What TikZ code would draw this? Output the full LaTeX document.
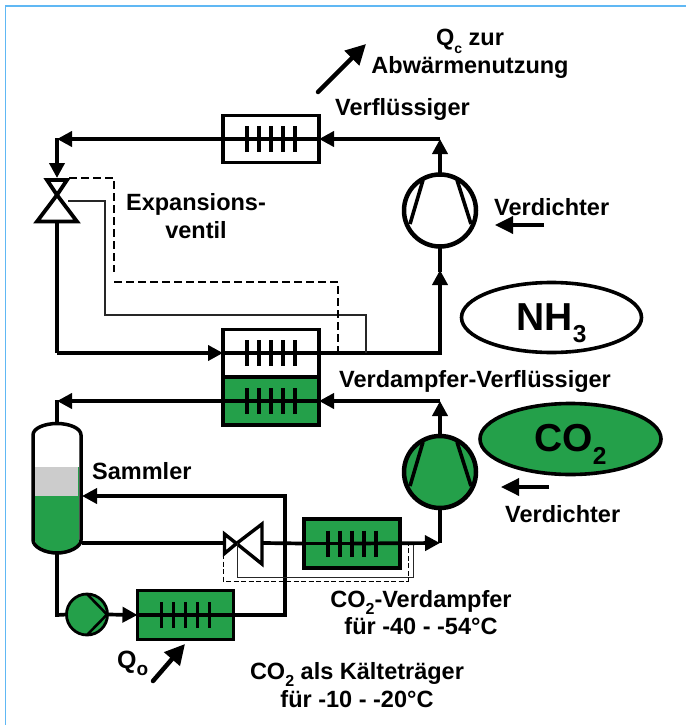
\documentclass[tikz,border=0pt]{standalone}
\usepackage{fontspec}
\setmainfont{Liberation Sans}
\usetikzlibrary{arrows.meta,shapes.geometric}
\definecolor{grn}{RGB}{36,160,74}
\definecolor{frameblue}{RGB}{96,184,244}
\definecolor{lvl}{RGB}{204,204,204}
\newcommand{\fs}[1]{\fontsize{#1}{#1}\selectfont\bfseries}
\newcommand{\subs}[2]{\smash{\raisebox{-0.3em}{\fontsize{#1}{#1}\selectfont #2}}}
\newcommand{\bigf}[2]{\smash{\raisebox{-12.5pt}{#1\raisebox{-12.5pt}{\fontsize{24.5}{24.5}\selectfont #2}}}}
\tikzset{
  x=1pt,y=-1pt,
  pipe/.style={line width=3.7pt,line join=miter},
  flow/.style={pipe,-{Triangle[length=15pt,width=15pt]}},
  bigarrow/.style={line width=4.5pt,line cap=round,-{Triangle[length=20pt,width=20pt]}},
  sidearrow/.style={line width=3.5pt,-{Triangle[length=18pt,width=17pt]}},
  thinl/.style={line width=1.1pt,draw=black!85},
  dashl/.style={line width=1.2pt,dash pattern=on 8pt off 4pt},
  dashs/.style={line width=1pt,dash pattern=on 5pt off 2.5pt},
  hx/.style={draw,line width=3.8pt,minimum width=96pt,minimum height=47pt,inner sep=0pt,outer sep=0pt},
  comp/.style={circle,draw,line width=4.5pt,minimum size=72pt,inner sep=0pt,outer sep=0pt},
  lbl/.style={font=\fs{23.5},align=center,inner sep=0pt},
  gas/.style={ellipse,draw,line width=3.6pt,inner sep=0pt,font=\fs{39}},
}
\newcommand{\bars}[1]{\foreach \d in {-24,-12,0,12,24}{\draw[line width=3.4pt] ([xshift=\d pt,yshift=13pt]#1.center) -- ([xshift=\d pt,yshift=-13pt]#1.center);}}
\begin{document}
\begin{tikzpicture}
\useasboundingbox (0,0) rectangle (686,725);
\fill[white] (0,0) rectangle (686,725);
\coordinate (fa) at (5.5,725);
\coordinate (fb) at (5.5,6);
\coordinate (fc) at (686,6);
\draw[frameblue,line width=1.3pt] (fa) -- (fb) -- (fc);

% heat exchangers
\node[hx] (hxa) at (271,139) {};
\node[hx] (hxb) at (271,353) {};
\node[hx,fill=grn,minimum height=48pt] (hxc) at (271,401) {};
\node[hx,fill=grn,minimum height=49pt] (hxd) at (352,543.5) {};
\node[hx,fill=grn,minimum height=49pt] (hxe) at (185.5,615) {};
\node[comp] (ca) at (440,210.5) {};
\node[comp,fill=grn] (cb) at (440,472) {};
\node[circle,draw,fill=grn,line width=2.8pt,minimum size=41pt,inner sep=0pt,outer sep=0pt] (pump) at (87,614.5) {};
\node[gas,minimum width=180pt,minimum height=70pt] (nh) at (551.5,317.5) {\bigf{NH}{3}};
\node[gas,fill=grn,minimum width=181pt,minimum height=71pt] (co) at (570.5,439) {\bigf{CO}{2}};

% collector
\coordinate (sc) at (57,488);
\fill[white] (33,435) .. controls (33,428) and (45,423.5) .. (57,423.5) .. controls (69,423.5) and (81,428) .. (81,435) -- (81,540) .. controls (81,547) and (69,553) .. (57,553) .. controls (45,553) and (33,547) .. (33,540) -- cycle;
\fill[lvl] (35,467) rectangle (79,496);
\fill[grn] (35,496) -- (79,496) -- (79,540) .. controls (79,547) and (69,553) .. (57,553) .. controls (45,553) and (35,547) .. (35,540) -- cycle;
\fill[grn] (77.8,467) rectangle (79,496);
\draw[line width=3.5pt] (33,435) .. controls (33,428) and (45,423.5) .. (57,423.5) .. controls (69,423.5) and (81,428) .. (81,435) -- (81,540) .. controls (81,547) and (69,553) .. (57,553) .. controls (45,553) and (33,547) .. (33,540) -- cycle;
\coordinate (stop) at (57,423);
\coordinate (sbot) at (57,553);
\coordinate (sin) at (82,496);
\coordinate (sout) at (82,543);

% top circuit
\coordinate (ctl) at (57,139);
\coordinate (ctr) at (440,139);
\coordinate (cml) at (57,353);
\coordinate (cmr) at (440,353);
\coordinate (vatop) at (57,178);
\coordinate (vabot) at (57,222);
\draw[flow] (hxa.center) -- (ctl);
\draw[pipe] (ctl) -- +(0,-1.5);
\draw[flow] (ctl) -- (vatop);
\draw[flow] (ctr) -- (hxa.east);
\draw[flow] (ca.north) -- (ctr);
\draw[flow] (cmr) -- (440,270);
\draw[pipe] (440,272) -- (ca.south);
\draw[pipe] (vabot) -- (cml);
\draw[flow] (57,353) -- (hxb.west);
\draw[pipe] (hxb.center) -- (cmr) -- (440,275);
\draw[pipe] (hxa.west) -- (hxa.east);
\draw[pipe] (hxb.west) -- (hxb.east);

% bottom circuit
\coordinate (cbl) at (57,401);
\coordinate (cbr) at (440,401);
\coordinate (cdr) at (440,543);
\coordinate (rta) at (285,496);
\coordinate (rtb) at (285,615);
\coordinate (vbl) at (224,543);
\coordinate (vbr) at (263,543);
\draw[flow] (hxc.center) -- (cbl);
\draw[pipe] (cbl) -- +(0,-1.5);
\draw[pipe] (cbl) -- (stop);
\draw[flow] (cbr) -- (hxc.east);
\draw[flow] (cb.north) -- (cbr);
\draw[pipe] (hxc.west) -- (hxc.east);
\draw[flow] (hxd.center) -- (cdr);
\draw[pipe] (cdr) -- (cb.south);
\draw[pipe] (hxd.west) -- (hxd.east);
\draw[pipe] (sout) -- (vbl);
\draw[pipe] (vbr) -- (hxd.west);
\draw[flow] (hxe.center) -- (rtb) -- (rta) -- (sin);
\draw[pipe] (hxe.west) -- (hxe.east);
\draw[pipe] (sbot) -- (57,615) -- (pump.west);
\draw[flow] (pump.east) -- (hxe.west);

% bars
\bars{hxa}\bars{hxb}\bars{hxc}\bars{hxd}\bars{hxe}

% compressor internals
\draw[line width=3.6pt] (423,180) -- (410,224) (457,180) -- (471,224);
\draw[line width=3.6pt] (423,442) -- (410,486) (457,442) -- (471,486);
\draw[line width=2.6pt,line join=round] (87,594) -- (107,614.5) -- (87,635);

% valves
\draw[line width=3.8pt,line join=miter,fill=white] (47,180) -- (67,180) -- (57,195) -- cycle;
\draw[line width=3.8pt,line join=miter,fill=white] (57,195) -- (77,221.5) -- (37,221.5) -- cycle;
\draw[line width=3.4pt,line join=miter,fill=white] (224.5,534) -- (236.5,543.5) -- (224.5,553.5) -- cycle;
\draw[line width=3.4pt,line join=miter,fill=white] (236.5,543.5) -- (262,524) -- (262,564) -- cycle;

% control lines
\coordinate (ta) at (68,201);
\coordinate (tb) at (105,201);
\coordinate (tc) at (105,315);
\coordinate (td) at (366,315);
\coordinate (te) at (366,353);
\draw[thinl] (ta) -- (tb) -- (tc) -- (td) -- (te);
\coordinate (da) at (69,178);
\coordinate (db) at (114,178);
\coordinate (dc) at (114,272);
\coordinate (dd) at (114,282);
\coordinate (de) at (338,282);
\coordinate (df) at (338,352);
\draw[dashl] (da) -- (db) -- (dc);
\draw[dashl] (dd) -- (de) -- (df);
\coordinate (ua) at (237,543);
\coordinate (ub) at (237,577);
\coordinate (uc) at (413,577);
\coordinate (ud) at (413,545);
\draw[thinl,line width=0.9pt] (ua) -- (ub) -- (uc) -- (ud);
\coordinate (wa) at (223,554);
\coordinate (wb) at (223,581);
\coordinate (wc) at (408,581);
\coordinate (wd) at (408,545);
\draw[dashs] (wa) -- (wb) -- (wc) -- (wd);

% external arrows
\coordinate (qa) at (318,92); \coordinate (qb) at (366,44);
\draw[bigarrow] (qa) -- (qb);
\coordinate (qc) at (153,681); \coordinate (qd) at (185,644);
\draw[bigarrow] (qc) -- (qd);
\coordinate (va) at (544,225); \coordinate (vb) at (495,225);
\draw[sidearrow] (va) -- (vb);
\coordinate (vc) at (549,487); \coordinate (vd) at (501,487);
\draw[sidearrow] (vc) -- (vd);

% labels
\node[lbl] (l1) at (470,54) {Q\subs{14}{c} zur\\[4pt]Abwärmenutzung};
\node[lbl,anchor=west] (l2) at (335,109) {Verflüssiger};
\node[lbl,anchor=west] (l3) at (494,207) {Verdichter};
\node[lbl] (l4) at (196,216) {Expansions-\\[4.5pt]ventil};
\node[lbl,anchor=west] (l5) at (339,381) {Verdampfer-Verflüssiger};
\node[lbl,anchor=west] (l6) at (92,471) {Sammler};
\node[lbl,anchor=west] (l7) at (505,514) {Verdichter};
\node[lbl] (l8) at (421,613) {CO\subs{16}{2}-Verdampfer\\[3.5pt]für -40 - -54°C};
\node[lbl,anchor=base west,font=\fs{25}] (l9) at (117,668) {Q\subs{19}{o}};
\node[lbl] (l10) at (357,685) {CO\subs{16}{2} als Kälteträger\\[4pt]für -10 - -20°C};
\end{tikzpicture}
\end{document}
